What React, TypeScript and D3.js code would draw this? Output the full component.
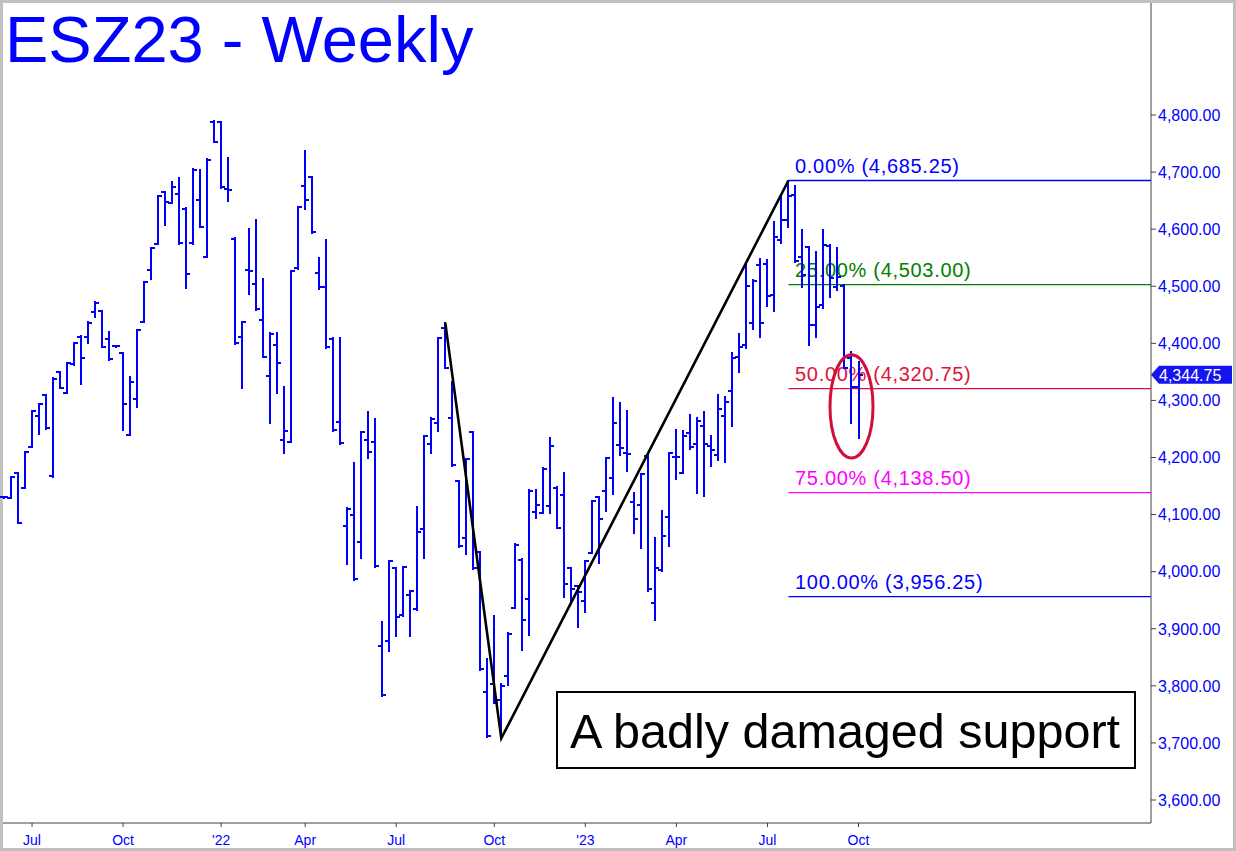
import React from "react";
import * as d3 from "d3";

// ---- Data (weekly bars, dated Fridays) ----
const FIRST_WEEK = new Date(Date.UTC(2021, 5, 4));
const AFTER_LAST_WEEK = new Date(Date.UTC(2023, 9, 7));
const weeks: Date[] = d3.utcFriday.range(FIRST_WEEK, AFTER_LAST_WEEK);

const opens = [
  4130, 4128.5, 4173.4, 4146.0, 4217.8, 4272.7, 4309.5, 4167.6, 4349.2, 4312.4,
  4363.8, 4411.7, 4410.5, 4454.3, 4457.2, 4407.0, 4395.3, 4382.5, 4239.4, 4302.5,
  4438.0, 4528.5, 4574.0, 4664.5, 4645.3, 4661.0, 4635.3, 4575.2, 4651.1, 4551.8,
  4788.3, 4787.2, 4669.8, 4583.4, 4410.5, 4528.5, 4504.0, 4440.9, 4342.8, 4397.1,
  4230.7, 4227.7, 4531.4, 4675.6, 4692.0, 4522.6, 4498.1, 4408.2, 4261.6, 4080.6,
  4099.3, 4051.4, 4230.7, 4227.7, 3869.8, 3878.5, 4007.0, 3923.5, 3959.2, 3934.0,
  4074.2, 4223.7, 4259.9, 4426.3, 4268.6, 4158.8, 4059.6, 4244.1, 4034.5, 3788.6,
  3802.6, 3775.0, 3817.2, 3935.8, 4020.4, 3951.5, 4105.1, 4103.4, 4115.0, 4147.2,
  4134.3, 4005.8, 3974.9, 3949.2, 4032.1, 4130.2, 4141.3, 4163.5, 4221.9, 4207.3,
  4122.6, 4116.2, 4203.2, 3944.5, 4002.9, 4095.2, 4200.3, 4173.4, 4243.5, 4223.7,
  4255.0, 4220.1, 4204.4, 4272.7, 4317.1, 4376.7, 4397.1, 4435.0, 4537.8, 4539.0,
  4484.7, 4581.0, 4616.1, 4659.9, 4551.8, 4568.2, 4432.1, 4467.2, 4570.5, 4499.3,
  4501.0, 4373.7, 4324.1,
];
const highs = [
  4131, 4166.4, 4173.4, 4210.2, 4281.5, 4293.2, 4309.5, 4338.7, 4349.2, 4365.0,
  4400.0, 4412.9, 4436.8, 4471.8, 4457.2, 4419.3, 4395.8, 4382.5, 4340.4, 4423.4,
  4506.9, 4567.6, 4658.7, 4664.5, 4682.0, 4689.1, 4636.5, 4704.8, 4703.7, 4722.3,
  4789.5, 4788.3, 4725.3, 4584.0, 4438.0, 4600.3, 4616.1, 4512.1, 4417.5, 4417.5,
  4323.0, 4526.7, 4639.4, 4736.9, 4692.0, 4548.9, 4581.0, 4408.8, 4408.8, 4110.9,
  4189.8, 4245.3, 4279.1, 4266.9, 3911.3, 4019.3, 4007.0, 4008.8, 3966.7, 4112.7,
  4238.3, 4268.6, 4409.9, 4436.2, 4331.7, 4158.8, 4197.4, 4244.1, 4035.1, 3846.4,
  3922.3, 3803.0, 3892.0, 4047.9, 4021.6, 4143.1, 4143.1, 4182.2, 4233.6, 4147.7,
  4172.3, 4007.0, 3975.5, 4019.3, 4124.4, 4131.4, 4199.7, 4303.6, 4294.9, 4281.5,
  4137.2, 4171.1, 4204.4, 4058.4, 4106.3, 4208.5, 4248.2, 4247.0, 4274.5, 4268.6,
  4280.3, 4237.7, 4309.5, 4305.4, 4383.7, 4416.4, 4539.0, 4510.9, 4547.2, 4546.0,
  4613.1, 4659.9, 4685.25, 4675.6, 4598.5, 4568.2, 4560.6, 4598.5, 4572.2, 4567.6,
  4502.2, 4385.4, 4367.9,
];
const lows = [
  4129, 4128.5, 4085.9, 4146.0, 4217.8, 4240.6, 4249.4, 4166.4, 4321.2, 4312.4,
  4362.0, 4328.2, 4400.0, 4445.5, 4394.2, 4370.8, 4394.8, 4248.2, 4239.4, 4289.1,
  4436.8, 4512.1, 4574.0, 4607.3, 4645.3, 4573.4, 4496.4, 4573.4, 4603.2, 4550.7,
  4752.1, 4671.5, 4650.0, 4398.2, 4321.2, 4485.8, 4458.4, 4375.5, 4259.9, 4313.6,
  4207.3, 4226.6, 4529.6, 4634.7, 4592.7, 4494.6, 4392.4, 4247.0, 4223.7, 4012.9,
  3985.4, 4023.4, 4198.5, 4008.8, 3782.2, 3861.0, 3887.3, 3922.3, 3887.3, 3932.9,
  4024.5, 4207.3, 4247.0, 4356.2, 4185.7, 4043.8, 4030.4, 4004.1, 3827.7, 3711.0,
  3769.4, 3708.0, 3801.5, 3935.8, 3862.8, 3889.0, 4093.4, 4103.4, 4103.4, 4075.9,
  3956.2, 3947.5, 3902.5, 3928.8, 4032.1, 4015.8, 4106.9, 4135.5, 4204.4, 4176.9,
  4068.3, 4040.9, 3966.7, 3915.3, 4001.2, 4045.6, 4161.8, 4172.3, 4214.3, 4137.2,
  4132.6, 4185.1, 4195.6, 4192.7, 4255.8, 4350.4, 4391.3, 4424.5, 4411.7, 4466.0,
  4457.2, 4576.4, 4604.4, 4543.1, 4499.3, 4397.1, 4411.7, 4461.3, 4481.8, 4493.4,
  4356.2, 4259.9, 4233.6,
];
const closes = [
  4130, 4166.4, 4085.9, 4210.2, 4281.5, 4293.2, 4251.1, 4337.5, 4322.4, 4365.0,
  4400.0, 4373.7, 4436.2, 4471.2, 4394.2, 4372.0, 4395.3, 4293.2, 4331.7, 4423.4,
  4506.9, 4566.4, 4658.7, 4647.0, 4674.5, 4575.2, 4521.5, 4703.7, 4604.4, 4721.2,
  4753.3, 4673.3, 4668.6, 4400.0, 4436.8, 4526.7, 4459.6, 4376.7, 4416.3, 4365.0,
  4247.0, 4526.7, 4639.4, 4651.1, 4595.6, 4498.1, 4393.0, 4248.2, 4224.8, 4109.2,
  3986.6, 4244.1, 4209.1, 4009.9, 3783.4, 4018.7, 3921.2, 4008.2, 3966.1, 4070.1,
  4237.7, 4267.5, 4408.8, 4357.4, 4186.9, 4045.0, 4196.8, 4005.8, 3828.9, 3712.1,
  3770.5, 3800.0, 3890.8, 4046.7, 3915.3, 4141.9, 4116.8, 4179.9, 4220.2, 4075.9,
  3978.4, 3969.1, 3963.8, 4018.1, 4123.8, 4091.7, 4198.5, 4259.9, 4216.1, 4205.5,
  4091.7, 4170.5, 3969.1, 4007.0, 4062.5, 4207.3, 4200.3, 4237.7, 4219.0, 4263.9,
  4223.1, 4213.1, 4284.4, 4296.7, 4374.9, 4394.2, 4500.4, 4509.2, 4435.0, 4482.9,
  4586.9, 4616.1, 4658.1, 4544.8, 4520.0, 4432.1, 4464.2, 4572.2, 4513.9, 4516.8,
  4357.4, 4324.1, 4344.75,
];

const priceTicks = [3600, 3700, 3800, 3900, 4000, 4100, 4200, 4300, 4400, 4500, 4600, 4700, 4800];
const monthNames = ["Jan", "Feb", "Mar", "Apr", "May", "Jun", "Jul", "Aug", "Sep", "Oct", "Nov", "Dec"];

const fibPct = ["0.00%", "25.00%", "50.00%", "75.00%", "100.00%"];
const fibValues = [4685.25, 4503.0, 4320.75, 4138.5, 3956.25];
const fibColors = ["#0000FF", "#008000", "#DC143C", "#FF00FF", "#0000FF"];
const fibStartIndex = 112;

// ABC swing line: week index and price
const swingIndex = [63, 71, 112];
const swingPrice = [4436.2, 3708.0, 4685.25];

const lastPrice = 4344.75;
const circleIndex = 121;
const circleTop = 4380;
const circleBottom = 4199;

const title = "ESZ23 - Weekly";
const note = "A badly damaged support";

const W = 1236;
const H = 851;
const FONT = "'Liberation Sans', Arial, Helvetica, sans-serif";
const BLUE = "#0000FF";

const fmt = d3.format(",.2f");

export default function App() {
  const x = d3
    .scaleTime()
    .domain([weeks[0], weeks[weeks.length - 1]])
    .range([4, 858.5]);
  const y = d3.scaleLinear().domain([3600, 4800]).range([800, 115]);
  const axisX = 1151;
  const axisY = 823;

  // quarter ticks at the first weekly bar of Jan/Apr/Jul/Oct
  const qTicks = weeks
    .map((d, i) => ({ d, i }))
    .filter(({ d, i }) => {
      const m = d.getUTCMonth();
      if (m % 3 !== 0) return false;
      return i > 0 && weeks[i - 1].getUTCMonth() !== m;
    })
    .map(({ d }) => ({
      x: x(d),
      label: d.getUTCMonth() === 0 ? "'" + String(d.getUTCFullYear()).slice(2) : monthNames[d.getUTCMonth()],
    }));

  const barPath = weeks
    .map((d, i) => {
      const cx = Math.round(x(d));
      const yh = y(highs[i]);
      const yl = Math.max(y(lows[i]), yh + 1);
      const yo = y(opens[i]);
      const yc = y(closes[i]);
      return `M${cx},${yh - 1}V${yl + 1}M${cx - 4},${yo}H${cx}M${cx},${yc}H${cx + 4}`;
    })
    .join("");

  const swingLine = d3
    .line<number>()
    .x((_, k) => x(weeks[swingIndex[k]]))
    .y((p) => y(p))(swingPrice) as string;

  const fibX0 = x(weeks[fibStartIndex]);

  const lastY = y(lastPrice);
  const ellCx = x(weeks[circleIndex]);
  const ellCy = (y(circleTop) + y(circleBottom)) / 2;
  const ellRy = (y(circleBottom) - y(circleTop)) / 2;

  return (
    <svg
      width={W}
      height={H}
      style={{ position: "absolute", left: 0, top: 0, display: "block" }}
      fontFamily={FONT}
    >
      <rect x={0} y={0} width={W} height={H} fill="#C0C0C0" />
      <rect x={3} y={3} width={W - 6} height={H - 6} fill="#FFFFFF" />

      {/* title */}
      <text x={5} y={62} fontSize={65} fill={BLUE}>
        {title}
      </text>

      {/* fib levels */}
      {fibValues.map((v, k) => (
        <g key={"fib" + k}>
          <line x1={fibX0} x2={axisX} y1={y(v)} y2={y(v)} stroke={fibColors[k]} strokeWidth={1.3} />
          <text x={795} y={y(v) - 7.5} fontSize={20} letterSpacing={0.7} fill={fibColors[k]}>
            {`${fibPct[k]} (${fmt(v)})`}
          </text>
        </g>
      ))}

      {/* bars */}
      <path d={barPath} stroke={BLUE} strokeWidth={2} fill="none" shapeRendering="crispEdges" />

      {/* swing lines */}
      <path d={swingLine} stroke="#000" strokeWidth={2.6} fill="none" strokeLinejoin="miter" />

      {/* circle */}
      <ellipse cx={ellCx} cy={ellCy} rx={21.5} ry={ellRy} fill="none" stroke="#D0103A" strokeWidth={3} />

      {/* right axis */}
      <line x1={axisX} x2={axisX} y1={3} y2={axisY} stroke="#404040" strokeWidth={1} />
      {priceTicks.map((p) => (
        <g key={"pt" + p}>
          <line x1={axisX} x2={axisX + 5} y1={y(p)} y2={y(p)} stroke="#404040" strokeWidth={1} />
          <text x={1158} y={y(p)} dy="0.36em" fontSize={16} fill={BLUE}>
            {fmt(p)}
          </text>
        </g>
      ))}

      {/* last price badge */}
      <path
        d={`M${axisX},${lastY}L${axisX + 8},${lastY - 9}H1232V${lastY + 9}H${axisX + 8}Z`}
        fill="#1515F0"
      />
      <text x={1159} y={lastY} dy="0.36em" fontSize={16} fill="#FFFFFF">
        {fmt(lastPrice)}
      </text>

      {/* bottom axis */}
      <line x1={3} x2={axisX} y1={axisY} y2={axisY} stroke="#404040" strokeWidth={1} />
      {qTicks.map((t, k) => (
        <g key={"qt" + k}>
          <line x1={t.x} x2={t.x} y1={axisY} y2={axisY + 4} stroke="#404040" strokeWidth={1} />
          <text x={t.x} y={845} fontSize={14} textAnchor="middle" fill={BLUE}>
            {t.label}
          </text>
        </g>
      ))}

      {/* annotation */}
      <rect x={557} y={692} width={578} height={76} fill="#FFFFFF" stroke="#000" strokeWidth={2} />
      <text x={845} y={748} fontSize={48.5} textAnchor="middle" fill="#000">
        {note}
      </text>
    </svg>
  );
}
